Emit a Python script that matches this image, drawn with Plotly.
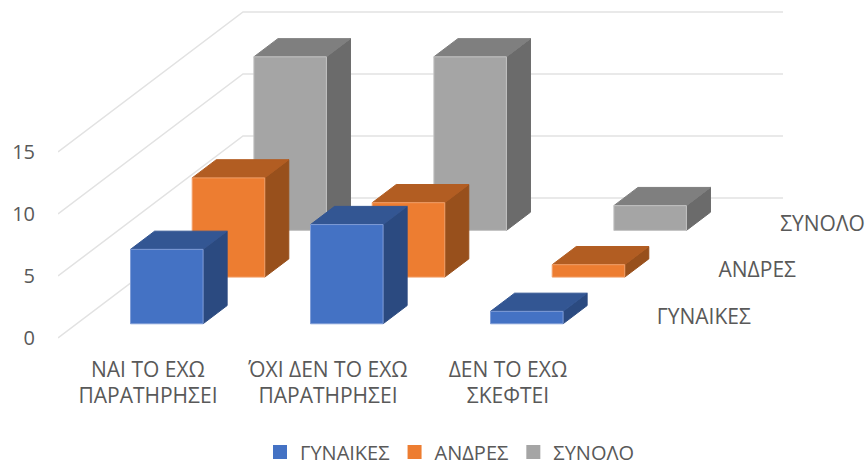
import plotly.graph_objects as go

categories_line1 = ["ΝΑΙ ΤΟ ΕΧΩ", "ΌΧΙ ΔΕΝ ΤΟ ΕΧΩ", "ΔΕΝ ΤΟ ΕΧΩ"]
categories_line2 = ["ΠΑΡΑΤΗΡΗΣΕΙ", "ΠΑΡΑΤΗΡΗΣΕΙ", "ΣΚΕΦΤΕΙ"]
series_names = ["ΓΥΝΑΙΚΕΣ", "ΑΝΔΡΕΣ", "ΣΥΝΟΛΟ"]
gynaikes = [6, 8, 1]
andres = [8, 6, 1]
synolo = [14, 14, 2]
value_ticks = [0, 5, 10, 15]
series_values = [gynaikes, andres, synolo]

front_colors = ["#4472C4", "#ED7D31", "#A5A5A5"]
side_colors = ["#2B4A80", "#98501C", "#6B6B6B"]
top_colors = ["#335693", "#B25D22", "#7F7F7F"]
edge_colors = ["#7F9CD6", "#F2A06A", "#C4C4C4"]
GRID = "#E2E2E2"
TEXT = "#595959"
FONT = dict(family="Open Sans", size=21, color=TEXT)
FONT_TICK = dict(family="Open Sans", size=20, color=TEXT)
FONT_LEG = dict(family="Open Sans", size=20, color=TEXT)

PX_X = 180.0
PX_Y = 12.4
DEPTH_X = 185 / PX_X
DEPTH_Y = 140 / PX_Y
BAR_W = 0.403
BOX = 0.39

fig = go.Figure()


def project(cat, depth):
    return cat + depth * DEPTH_X / 3, depth * DEPTH_Y / 3


def poly(xs, ys, color, edge):
    fig.add_trace(go.Scatter(x=xs, y=ys, mode="lines", fill="toself", fillcolor=color,
                             line=dict(color=edge, width=1), hoverinfo="skip",
                             showlegend=False))


# walls: gridlines
for v in value_ticks:
    fig.add_trace(go.Scatter(x=[0, DEPTH_X, 3 + DEPTH_X], y=[v, v + DEPTH_Y, v + DEPTH_Y],
                             mode="lines", line=dict(color=GRID, width=1.5),
                             hoverinfo="skip", showlegend=False))

# columns, back series first
for s in [2, 1, 0]:
    d0 = s + (1 - BOX) / 2
    d1 = d0 + BOX
    for c, val in enumerate(series_values[s]):
        c0 = c + (1 - BAR_W) / 2
        c1 = c0 + BAR_W
        x0, y0 = project(c0, d0)
        x1, _ = project(c1, d0)
        x2, y2 = project(c1, d1)
        x3, _ = project(c0, d1)
        poly([x1, x2, x2, x1, x1], [y0, y2, y2 + val, y0 + val, y0], side_colors[s], side_colors[s])
        poly([x0, x1, x2, x3, x0], [y0 + val, y0 + val, y2 + val, y2 + val, y0 + val],
             top_colors[s], top_colors[s])
        poly([x0, x1, x1, x0, x0], [y0, y0, y0 + val, y0 + val, y0], front_colors[s], edge_colors[s])

# depth-axis labels
for s, name in enumerate(series_names):
    lx, ly = project(3, s + 0.5)
    fig.add_trace(go.Scatter(x=[lx + 28 / PX_X], y=[ly - 4 / PX_Y], mode="text", text=[name],
                             textposition="middle right", textfont=FONT, cliponaxis=False,
                             hoverinfo="skip", showlegend=False))

# second row of the category labels
fig.add_trace(go.Scatter(x=[i + 0.5 for i in range(3)], y=[-60 / PX_Y] * 3, mode="text",
                         text=categories_line2, textposition="middle center", textfont=FONT,
                         cliponaxis=False, hoverinfo="skip", showlegend=False))

# legend entries
for s, name in enumerate(series_names):
    fig.add_trace(go.Scatter(x=[None], y=[None], mode="markers", name=name,
                             marker=dict(symbol="square", size=14, color=front_colors[s])))

fig.update_layout(
    width=866, height=465, margin=dict(l=58, r=0, t=0, b=0, autoexpand=False),
    paper_bgcolor="white", plot_bgcolor="white", font=FONT,
    xaxis=dict(range=[0, 808 / PX_X], showgrid=False, zeroline=False, showline=False,
               anchor="free", position=127 / 465,
               tickmode="array", tickvals=[0.5, 1.5, 2.5], ticktext=categories_line1,
               ticks="", tickangle=0, ticklabelstandoff=17, tickfont=FONT),
    yaxis=dict(range=[-127 / PX_Y, 338 / PX_Y], showgrid=False, zeroline=False, showline=False,
               tickmode="array", tickvals=value_ticks, ticks="", ticklabelstandoff=22,
               tickfont=FONT_TICK),
    legend=dict(orientation="h", x=(260 - 58) / 808, y=(465 - 452) / 465,
                xanchor="left", yanchor="middle", font=FONT_LEG, itemsizing="trace"),
)

fig.write_html("out.html", config={"displayModeBar": False},
               post_script="document.body.style.margin='0';")
